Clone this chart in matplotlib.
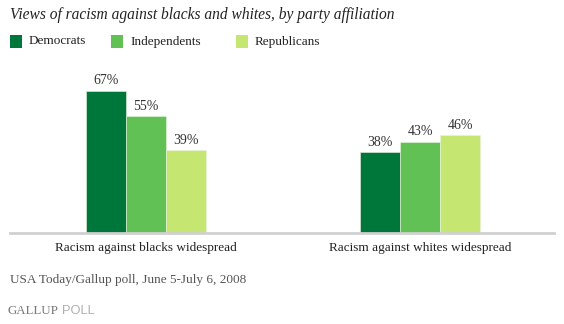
import matplotlib.pyplot as plt
import numpy as np
from matplotlib.patches import Rectangle

categories = ["Racism against blacks widespread", "Racism against whites widespread"]
parties = ["Democrats", "Independents", "Republicans"]
democrats = [67, 38]
independents = [55, 43]
republicans = [39, 46]
colors = ["#00773a", "#62c155", "#c6e672"]

W, H = 564, 324
fig = plt.figure(figsize=(W / 100, H / 100), dpi=100)
serif = "Liberation Serif"


def px(x, y):
    return x / W, 1 - y / H


# axes: pixel x 10..554, y 21 (100%)..233 (0%)
ax = fig.add_axes([10 / W, 1 - 233 / H, 544 / W, 212 / H])
x = np.arange(len(categories))
unit = 274.0
w = 40 / unit
ax.set_xlim(-136 / unit, -136 / unit + 544 / unit)
ax.set_ylim(0, 100)
for i, vals in enumerate([democrats, independents, republicans]):
    offs = x + (i - 1) * w
    ax.bar(offs, vals, width=w, color=colors[i], edgecolor="#e8f3e0",
           linewidth=0.4, zorder=2)
    for xi, v in zip(offs, vals):
        ax.annotate(f"{v}%", (xi, v), xytext=(0, 2.5), textcoords="offset points",
                    ha="center", va="bottom", fontsize=10, family=serif,
                    color="#333333")
for s in ["top", "right", "left"]:
    ax.spines[s].set_visible(False)
ax.spines["bottom"].set_color("#d0d0d0")
ax.spines["bottom"].set_linewidth(2)
ax.set_yticks([])
ax.set_xticks(x)
ax.set_xticklabels(categories, fontsize=9.5, family=serif, color="#222222")
ax.tick_params(axis="x", length=0, pad=6.5)

fig.text(*px(10, 15), "Views of racism against blacks and whites, by party affiliation",
         fontsize=11.2, style="italic", family=serif, color="#222222", va="center")

leg_x = [10, 111, 236]
for lx, name, c in zip(leg_x, parties, colors):
    fig.patches.append(Rectangle(px(lx, 48), 12 / W, 13 / H, transform=fig.transFigure,
                                 facecolor=c, edgecolor="none"))
    fig.text(*px(lx + 19, 41.5), name, fontsize=9.5, family=serif,
             color="#222222", va="center")

fig.text(*px(10, 280), "USA Today/Gallup poll, June 5-July 6, 2008", fontsize=9.5,
         family=serif, color="#555555", va="center")
fig.text(*px(7, 311), "GALLUP", fontsize=9.3, family=serif, color="#777777", va="center")
fig.text(*px(62, 311), "POLL", fontsize=9.3, family="Liberation Sans", color="#b0b0b0",
         va="center")

fig.savefig("out.png", dpi=100)
